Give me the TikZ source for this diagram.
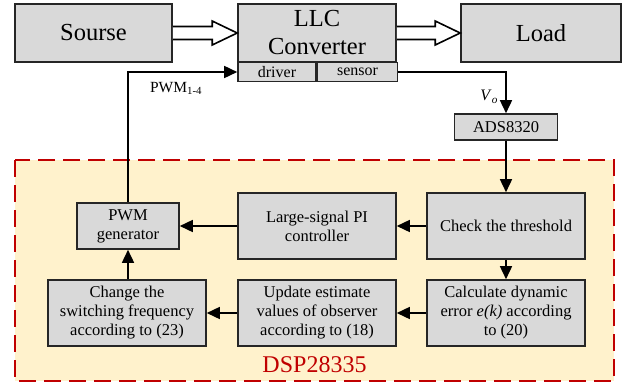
\documentclass[tikz,border=0pt]{standalone}
\usepackage{fontspec}
\setmainfont{Liberation Serif}
\usetikzlibrary{positioning, arrows.meta, calc}

\definecolor{boxgray}{HTML}{D9D9D9}
\definecolor{dspfill}{HTML}{FFF2CC}
\definecolor{dspred}{HTML}{C00000}

% hollow power-flow arrow from the east side of #1 to the west side of #2
\newcommand\powerarrow[2]{
    \draw[line width=1.6pt, fill=white, line join=miter]
        ($(#1.east)+(0,-6.5)$) -- ($(#2.west)+(-25,-6.5)$)
        -- ($(#2.west)+(-25,-12)$) -- (#2.west)
        -- ($(#2.west)+(-25,12)$) -- ($(#2.west)+(-25,6.5)$)
        -- ($(#1.east)+(0,6.5)$);
}

\begin{document}
\begin{tikzpicture}[
    x=1pt, y=-1pt,
    block/.style={rectangle, draw=black!85, fill=boxgray, line width=1.6pt, align=center, inner sep=2pt, font=\fontsize{16.5}{19}\selectfont},
    bigblock/.style={block, minimum width=158pt, minimum height=58pt, font=\fontsize{24.5}{28}\selectfont},
    stagebox/.style={block, minimum width=158pt, minimum height=66pt},
    port/.style={block, minimum height=19pt, inner sep=0pt, font=\fontsize{16}{16}\selectfont},
    flow/.style={line width=1.6pt, -{Triangle[length=13pt, width=12pt]}}
]
\useasboundingbox (0,0) rectangle (624,386);

% DSP area
\draw[dspred, fill=dspfill, line width=1.8pt, dash pattern=on 17pt off 8pt]
    (15,160) rectangle (614,381);
\node[text=dspred, font=\fontsize{24}{24}\selectfont] (dsp) at (314.5,365) {DSP28335};

% Power stage
\node[bigblock, minimum width=157pt] (src) at (93.5,33) {Sourse};
\node[bigblock] (llc) at (317,33) {LLC\\Converter};
\node[bigblock, minimum width=160pt] (load) at (541,33) {Load};
\node[port, minimum width=78pt] (drv) at (277,72) {driver};
\node[port, minimum width=80pt, right=0pt of drv] (sen) {sensor};

\powerarrow{src}{llc}
\powerarrow{llc}{load}

% Sampling
\node[block, minimum width=103pt, minimum height=26pt] (ads) at (506,127) {ADS8320};

% Control steps
\node[block, minimum width=102pt, minimum height=46pt] (pwm) at (128,226) {PWM\\generator};
\node[stagebox] (pi) at (317,226) {Large-signal PI\\controller};
\node[stagebox] (chk) at (506,226) {Check the threshold};
\node[stagebox] (chg) at (127,313) {Change the\\switching frequency\\according to (23)};
\node[stagebox] (upd) at (317,313) {Update estimate\\values of observer\\according to (18)};
\node[stagebox] (calc) at (506,313) {Calculate dynamic\\error \textit{e(k)} according\\to (20)};

% Feedback path
\draw[flow] (sen.east) -| (ads.north)
    node[pos=0.8, left=4pt, font=\fontsize{16}{16}\selectfont] {\textit{V}\textsubscript{\textit{o}}};
\draw[flow] (ads) -- (chk);
\draw[flow] (chk) -- (pi);
\draw[flow] (pi) -- (pwm);
\draw[flow] (chk) -- (calc);
\draw[flow] (calc) -- (upd);
\draw[flow] (upd) -- (chg);
\draw[flow] (chg.north -| pwm.south) -- (pwm.south);
\draw[flow] (pwm.north) |- (drv.west)
    node[pos=0.72, below=6pt, font=\fontsize{15.5}{16}\selectfont] {PWM\textsubscript{1-4}};

\end{tikzpicture}
\end{document}
